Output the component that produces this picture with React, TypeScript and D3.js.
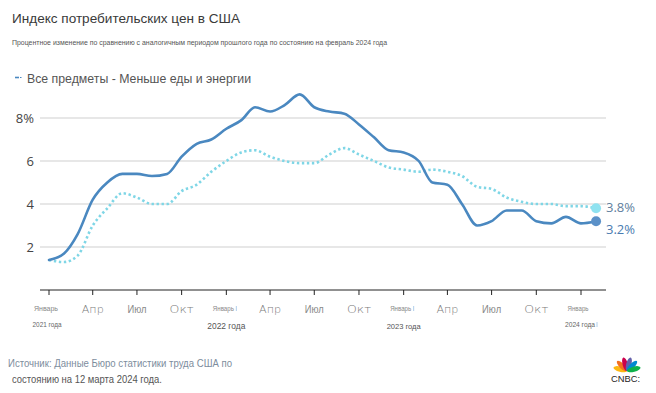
import React from "react";
import * as d3 from "d3";

const startYear = 2021;
const allItems = [
  1.4, 1.7, 2.6, 4.2, 5.0, 5.4, 5.4, 5.3, 5.4, 6.2, 6.8, 7.0,
  7.5, 7.9, 8.5, 8.3, 8.6, 9.1, 8.5, 8.3, 8.2, 7.7, 7.1, 6.5,
  6.4, 6.0, 5.0, 4.9, 4.0, 3.0, 3.2, 3.7, 3.7, 3.2, 3.1, 3.4,
  3.1, 3.2,
];
const coreItems = [
  1.4, 1.3, 1.6, 3.0, 3.8, 4.5, 4.3, 4.0, 4.0, 4.6, 4.9, 5.5,
  6.0, 6.4, 6.5, 6.2, 6.0, 5.9, 5.9, 6.3, 6.6, 6.3, 6.0, 5.7,
  5.6, 5.5, 5.6, 5.5, 5.3, 4.8, 4.7, 4.3, 4.1, 4.0, 4.0, 3.9,
  3.9, 3.8,
];
const yTicks = [2, 4, 6, 8];
const monthLabels = ["Январь", "Апр", "Июл", "Окт"];
const yearLabels = ["2021 года", "2022 года", "2023 года", "2024 года"];

const W = 656;
const H = 393;

export default function App() {
  const dates = allItems.map((_, i) => new Date(startYear, i, 1));
  const x = d3
    .scaleTime()
    .domain([new Date(2021, 0, 1), new Date(2024, 0, 1)])
    .range([49, 581]);
  const y = d3.scaleLinear().domain([0, 8]).range([290, 118]);

  const line = d3
    .line<number>()
    .x((_, i) => x(dates[i]))
    .y((d) => y(d))
    .curve(d3.curveMonotoneX);

  const ticks: Date[] = [];
  for (let m = 0; m <= 36; m += 3) ticks.push(new Date(startYear, m, 1));

  const last = allItems.length - 1;
  const lastX = x(dates[last]);

  const narrow = "'Liberation Sans', Arial, sans-serif";

  return (
    <svg
      width={W}
      height={H}
      style={{ position: "absolute", left: 0, top: 0, background: "#fff" }}
    >
      <text x={12} y={23} fontFamily={narrow} fontSize={13.5} fill="#3a3a3a" textLength={228} lengthAdjust="spacingAndGlyphs">
        Индекс потребительских цен в США
      </text>
      <text x={12} y={44.5} fontFamily={narrow} fontSize={7.5} fill="#555" textLength={375} lengthAdjust="spacingAndGlyphs">
        Процентное изменение по сравнению с аналогичным периодом прошлого года по состоянию на февраль 2024 года
      </text>

      {/* legend */}
      <line x1={15} x2={19} y1={77.5} y2={77.5} stroke="#4a88c0" strokeWidth={1.6} />
      <line x1={20} x2={21.5} y1={77.5} y2={77.5} stroke="#4a88c0" strokeWidth={1.2} />
      <text x={27} y={83} fontFamily={narrow} fontSize={12} fill="#555" textLength={224} lengthAdjust="spacingAndGlyphs">
        Все предметы - Меньше еды и энергии
      </text>

      {/* grid */}
      {yTicks.map((t) => (
        <g key={t}>
          <line x1={40} x2={606} y1={y(t)} y2={y(t)} stroke="#cfcfcf" strokeWidth={1} />
          <text x={34} y={y(t) + 4.5} textAnchor="end" fontFamily="'Open Sans', sans-serif" fontSize={13} fill="#444">
            {t === 8 ? "8%" : String(t)}
          </text>
        </g>
      ))}

      {/* axis */}
      <line x1={40} x2={606} y1={290} y2={290} stroke="#222" strokeWidth={1} />
      {ticks.map((t, i) => {
        const tx = x(t);
        const mi = t.getMonth() / 3;
        const isJan = mi === 0;
        const yearIdx = t.getFullYear() - startYear;
        return (
          <g key={i}>
            <line x1={tx} x2={tx} y1={290} y2={295} stroke="#222" strokeWidth={1} />
            {isJan ? (
              <>
                <text x={tx - 3} y={311} textAnchor="middle" fontFamily={narrow} fontSize={7} fill="#888" textLength={yearIdx === 0 ? 24 : 21} lengthAdjust="spacingAndGlyphs">
                  {monthLabels[0]}
                </text>
                {yearIdx > 0 && yearIdx < 3 && (
                  <line x1={tx + 10} x2={tx + 10} y1={306} y2={311} stroke="#9cc3e6" strokeWidth={0.8} />
                )}
                <text
                  x={yearIdx === 0 ? tx - 2 : tx - (yearIdx === 3 ? 1 : 0)}
                  y={yearIdx === 0 ? 327 : yearIdx === 3 ? 327 : 329}
                  textAnchor="middle"
                  fontFamily={narrow}
                  fontSize={yearIdx === 1 ? 9.5 : 8}
                  fill={yearIdx === 1 || yearIdx === 2 ? "#555" : "#666"}
                  textLength={yearIdx === 0 ? 29 : yearIdx === 1 ? 38 : yearIdx === 2 ? 34 : 30}
                  lengthAdjust="spacingAndGlyphs"
                >
                  {yearLabels[yearIdx]}
                </text>
                {yearIdx === 3 && (
                  <line x1={tx + 16} x2={tx + 16} y1={322} y2={327} stroke="#9cc3e6" strokeWidth={0.8} />
                )}
              </>
            ) : mi === 2 ? (
              <text x={tx} y={313} textAnchor="middle" fontFamily={narrow} fontSize={10} fill="#888" textLength={19} lengthAdjust="spacingAndGlyphs">
                {monthLabels[mi]}
              </text>
            ) : (
              <text x={tx} y={313} textAnchor="middle" fontFamily="'DejaVu Sans', sans-serif" fontWeight={200} fontSize={10} fill="#7a7a7a" textLength={mi === 1 ? 22 : 24} lengthAdjust="spacingAndGlyphs">
                {monthLabels[mi]}
              </text>
            )}
          </g>
        );
      })}

      {/* lines */}
      <path d={line(coreItems) || ""} fill="none" stroke="#7fd6e6" strokeWidth={2.6} strokeDasharray="2.4 2.6" />
      <path d={line(allItems) || ""} fill="none" stroke="#4a88c0" strokeWidth={2.6} strokeLinejoin="round" strokeLinecap="round" />

      <circle cx={lastX} cy={y(coreItems[last])} r={5} fill="#8fe2f0" />
      <circle cx={lastX} cy={y(allItems[last])} r={5} fill="#5b91c8" />
      <text x={606} y={212} fontFamily="'Open Sans', sans-serif" fontSize={13} fill="#5f7f9e">
        {coreItems[last].toFixed(1)}%
      </text>
      <text x={606} y={234} fontFamily="'Open Sans', sans-serif" fontSize={13} fill="#4a7bb0">
        {allItems[last].toFixed(1)}%
      </text>

      {/* footer */}
      <text x={8} y={367} fontFamily={narrow} fontSize={10.5} fill="#7d8d9d" textLength={224} lengthAdjust="spacingAndGlyphs">
        Источник: Данные Бюро статистики труда США по
      </text>
      <text x={12} y={383} fontFamily={narrow} fontSize={10.5} fill="#555" textLength={150} lengthAdjust="spacingAndGlyphs">
        состоянию на 12 марта 2024 года.
      </text>

      {/* CNBC logo */}
      <g transform="translate(627,371)">
        {["#fcb711", "#f37021", "#cc004c", "#6460aa", "#0089d0", "#0db14b"].map((c, i) => {
          const ang = -75 + i * 30;
          return (
            <ellipse key={c} cx={0} cy={-7} rx={2.6} ry={7} fill={c} transform={`rotate(${ang})`} />
          );
        })}
      </g>
      <text x={611} y={382} fontFamily={narrow} fontSize={8.5} fill="#222" textLength={29} lengthAdjust="spacingAndGlyphs">
        CNBC:
      </text>
    </svg>
  );
}
